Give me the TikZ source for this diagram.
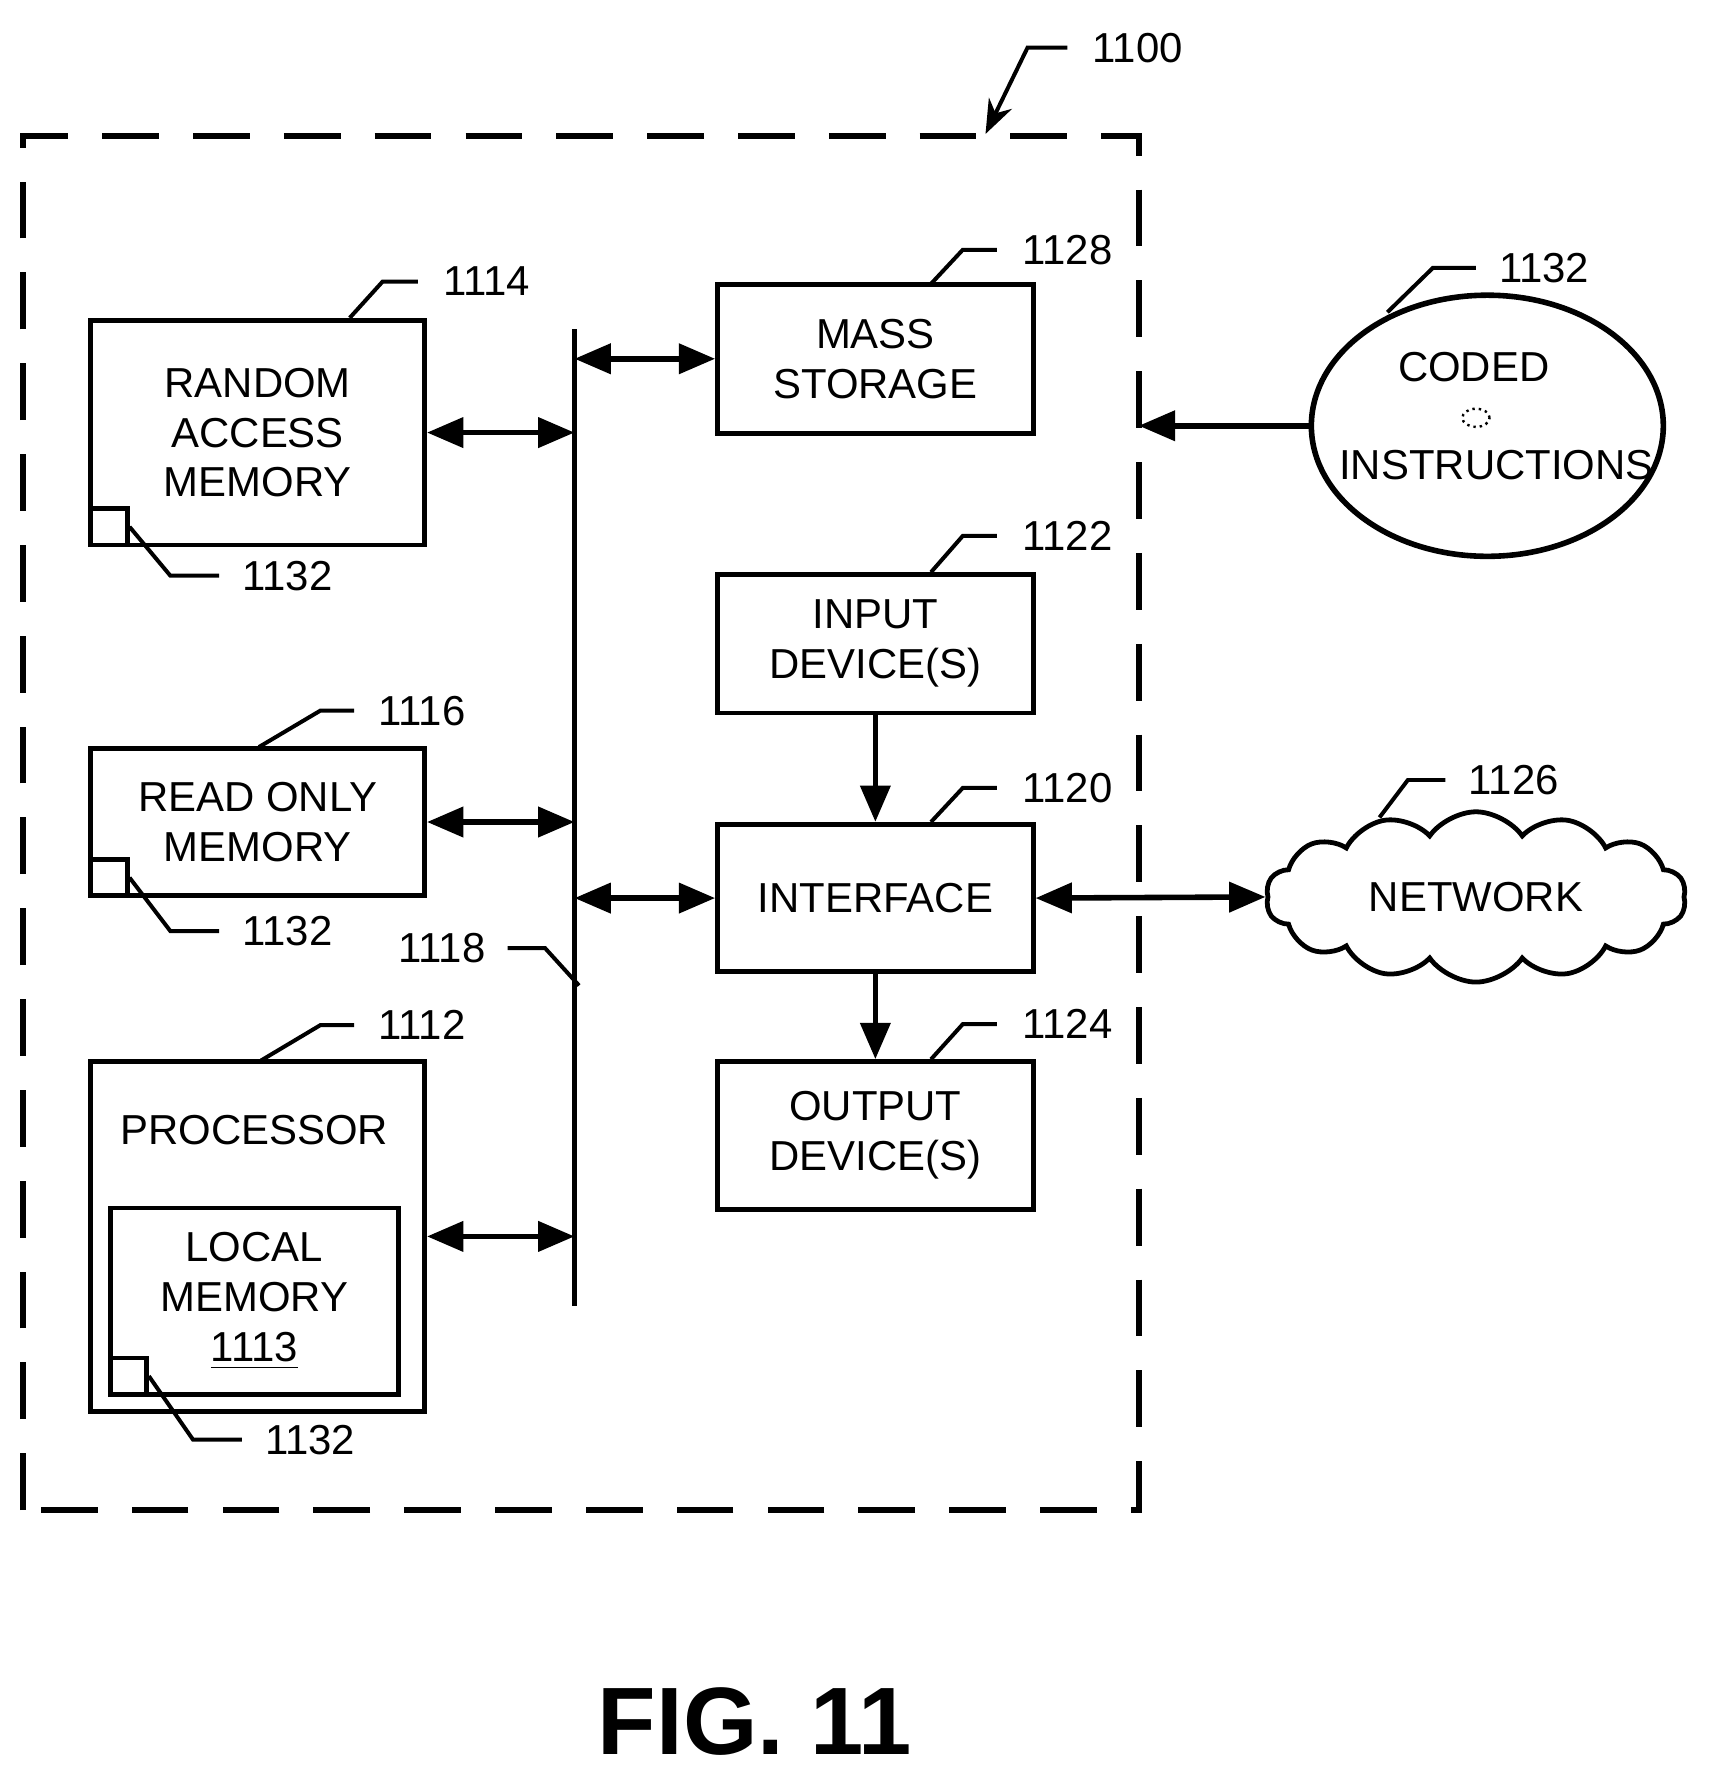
\documentclass[tikz,border=0pt]{standalone}
\usepackage{fontspec}
\setmainfont{Liberation Sans}
\usetikzlibrary{arrows.meta,shapes.geometric,shapes.symbols,patterns}

\tikzset{
  blk/.style={draw,line width=1.2pt,align=center,font=\fontsize{10.5}{12.5}\selectfont},
  sq/.style={draw,line width=1.2pt,minimum size=0.32cm,inner sep=0pt},
  bi/.style={line width=1.4pt,{Triangle[length=3.2mm,width=2.6mm]}-{Triangle[length=3.2mm,width=2.6mm]}},
  uni/.style={line width=1.4pt,-{Triangle[length=3.2mm,width=2.6mm]}},
  lead/.style={line width=1pt},
  ref/.style={font=\fontsize{10.5}{12}\selectfont,anchor=west}
}

\begin{document}
\begin{tikzpicture}
  \useasboundingbox (0,0) rectangle (15.1,15.66);

  % outer frame
  \draw[line width=1.4pt,dash pattern=on 0.5cm off 0.3cm] (0.20,2.36) rectangle (10.03,14.46);
  \coordinate (frameE) at (10.03,0);

  % bus
  \coordinate (busT) at (5.06,12.76);
  \coordinate (busB) at (5.06,4.16);
  \draw[line width=1.4pt] (busT) -- (busB);

  % left column
  \node[blk,minimum width=2.94cm,minimum height=1.98cm] (ram) at (2.27,11.85) {RANDOM\\ACCESS\\MEMORY};
  \node[sq,anchor=south west] (ramsq) at (ram.south west) {};
  \node[blk,minimum width=2.94cm,minimum height=1.30cm] (rom) at (2.27,8.42) {READ ONLY\\MEMORY};
  \node[sq,anchor=south west] (romsq) at (rom.south west) {};
  \node[blk,minimum width=2.94cm,minimum height=3.08cm] (cpu) at (2.27,4.77) {};
  \node[font=\fontsize{10.5}{12.5}\selectfont] (cputxt) at (2.24,5.71) {PROCESSOR};
  \node[blk,minimum width=2.54cm,minimum height=1.64cm] (lmem) at (2.24,4.20) {LOCAL\\MEMORY\\\underline{1113}};
  \node[sq,anchor=south west] (lmemsq) at (lmem.south west) {};

  % right column
  \node[blk,minimum width=2.78cm,minimum height=1.31cm] (mass) at (7.71,12.50) {MASS\\STORAGE};
  \node[blk,minimum width=2.78cm,minimum height=1.22cm] (input) at (7.71,9.99) {INPUT\\DEVICE(S)};
  \node[blk,minimum width=2.78cm,minimum height=1.30cm] (iface) at (7.71,7.75) {INTERFACE};
  \node[blk,minimum width=2.78cm,minimum height=1.30cm] (output) at (7.71,5.66) {OUTPUT\\DEVICE(S)};

  % outside
  \node[draw,ellipse,line width=1.4pt,minimum width=3.1cm,minimum height=2.3cm] (disk) at (13.10,11.91) {};
  \draw[densely dotted,line width=0.6pt] (13.0,11.98) ellipse (0.12 and 0.08);
  \node[font=\fontsize{10.5}{12}\selectfont] (dtop) at (12.98,12.43) {CODED};
  \node[font=\fontsize{10.5}{12}\selectfont] (dbot) at (13.18,11.56) {INSTRUCTIONS};
  \node[draw,cloud,cloud puffs=14,cloud puff arc=110,aspect=2.6,line width=1.2pt,
        minimum width=3.7cm,minimum height=1.5cm,font=\fontsize{10.5}{12}\selectfont] (net) at (13.00,7.76) {NETWORK};

  % connectors
  \draw[bi] (ram.east) -- (ram.east -| busT);
  \draw[bi] (rom.east) -- (rom.east -| busT);
  \draw[bi] (cpu.east) -- (cpu.east -| busT);
  \draw[bi] (mass.west -| busT) -- (mass.west);
  \draw[bi] (iface.west -| busT) -- (iface.west);
  \draw[uni] (input) -- (iface);
  \draw[uni] (iface) -- (output);
  \draw[bi] (iface.east) -- (net.west);
  \draw[uni] (disk.west) -- (disk.west -| frameE);

  % reference numerals
  \draw[lead,-{Stealth[length=3mm]}] (9.40,15.24) -- (9.05,15.24) -- (8.68,14.48);
  \node[ref] (n1100) at (9.50,15.24) {1100};
  \draw[lead] (3.08,12.86) -- (3.37,13.18) -- (3.68,13.18);
  \node[ref] (n1114) at (3.78,13.18) {1114};
  \draw[lead] (ramsq.east) -- (1.50,10.59) -- (1.93,10.59);
  \node[ref] (n1132a) at (2.01,10.59) {1132};
  \draw[lead] (2.28,9.08) -- (2.82,9.40) -- (3.12,9.40);
  \node[ref] (n1116) at (3.21,9.40) {1116};
  \draw[lead] (romsq.east) -- (1.50,7.46) -- (1.93,7.46);
  \node[ref] (n1132b) at (2.01,7.46) {1132};
  \draw[lead] (2.30,6.32) -- (2.82,6.63) -- (3.12,6.63);
  \node[ref] (n1112) at (3.21,6.63) {1112};
  \draw[lead] (lmemsq.east) -- (1.70,2.98) -- (2.13,2.98);
  \node[ref] (n1132c) at (2.21,2.98) {1132};
  \draw[lead] (4.47,7.31) -- (4.80,7.31) -- (5.10,6.98);
  \node[ref,anchor=east] (n1118) at (4.40,7.31) {1118};
  \draw[lead] (8.20,13.16) -- (8.48,13.46) -- (8.78,13.46);
  \node[ref] (n1128) at (8.88,13.46) {1128};
  \draw[lead] (8.20,10.62) -- (8.48,10.94) -- (8.78,10.94);
  \node[ref] (n1122) at (8.88,10.94) {1122};
  \draw[lead] (8.20,8.42) -- (8.48,8.72) -- (8.78,8.72);
  \node[ref] (n1120) at (8.88,8.72) {1120};
  \draw[lead] (8.20,6.33) -- (8.48,6.64) -- (8.78,6.64);
  \node[ref] (n1124) at (8.88,6.64) {1124};
  \draw[lead] (12.22,12.91) -- (12.62,13.30) -- (13.00,13.30);
  \node[ref] (n1132d) at (13.08,13.30) {1132};
  \draw[lead] (12.15,8.46) -- (12.40,8.79) -- (12.73,8.79);
  \node[ref] (n1126) at (12.81,8.79) {1126};

  \node[font=\bfseries\fontsize{24}{28}\selectfont] (fig) at (6.65,0.50) {FIG. 11};
\end{tikzpicture}
\end{document}
